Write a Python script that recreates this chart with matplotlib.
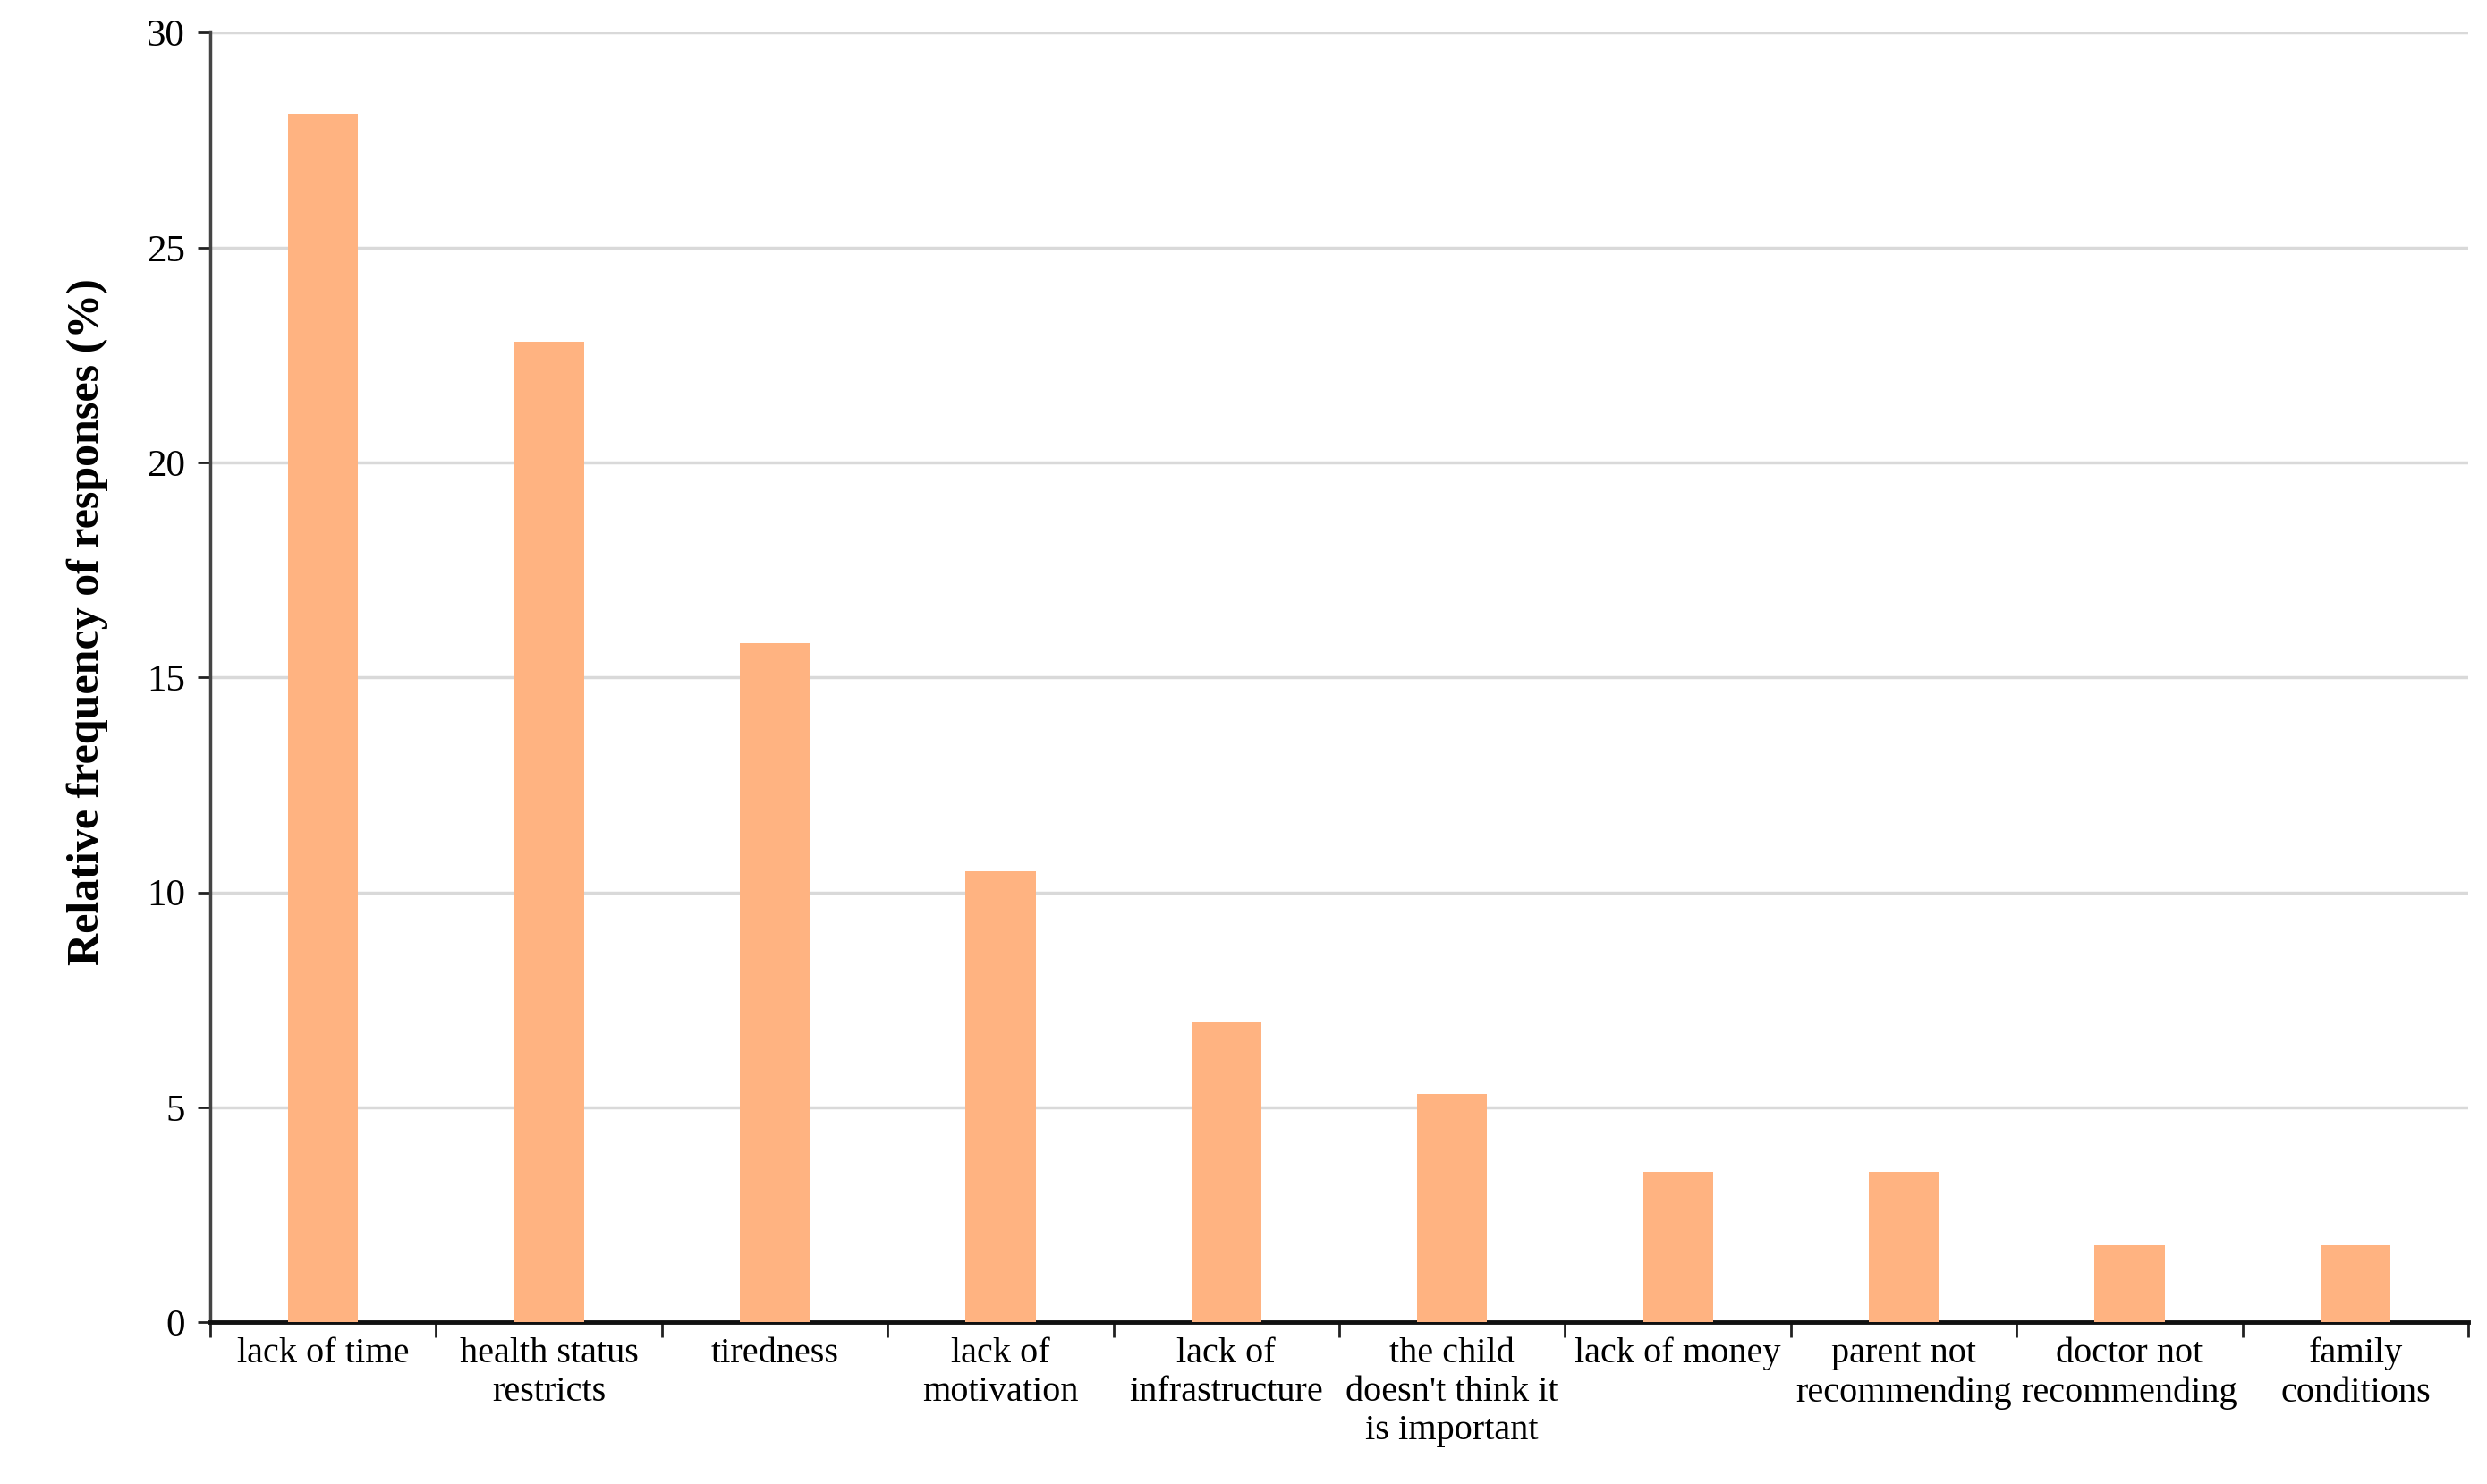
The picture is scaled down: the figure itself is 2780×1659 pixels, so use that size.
import numpy as np
import matplotlib.pyplot as plt

# reasons and share of responses (%)
reasons = [
    "lack of time",
    "health status\nrestricts",
    "tiredness",
    "lack of\nmotivation",
    "lack of\ninfrastructure",
    "the child\ndoesn't think it\nis important",
    "lack of money",
    "parent not\nrecommending",
    "doctor not\nrecommending",
    "family\nconditions",
]
freq = [28.1, 22.8, 15.8, 10.5, 7.0, 5.3, 3.5, 3.5, 1.8, 1.8]
yticks = [0, 5, 10, 15, 20, 25, 30]

plt.rcParams["font.family"] = ["Liberation Serif", "DejaVu Serif"]

fig = plt.figure(figsize=(27.8, 16.59), dpi=100)
ax = fig.add_axes([0.0845, 0.109, 0.908, 0.869])

x = np.arange(len(reasons))
ax.bar(x, freq, width=0.31, color="#FFB381", zorder=3)

ax.set_xlim(-0.5, len(reasons) - 0.5)
ax.set_ylim(0, 30)
ax.set_yticks(yticks)
ax.set_yticklabels([str(v) for v in yticks], fontsize=31)

# category labels between boundary ticks
ax.set_xticks(x)
ax.set_xticklabels(reasons, fontsize=29, linespacing=1.22)
ax.tick_params(axis="x", length=0, pad=12)
ax.set_xticks(np.arange(len(reasons) + 1) - 0.5, minor=True)
ax.tick_params(axis="x", which="minor", length=12, width=2, direction="out", color="#222222")
ax.tick_params(axis="y", length=10, width=2, direction="out", color="#222222", pad=10)

ax.grid(axis="y", color="#d9d9d9", linewidth=2.5, zorder=0)
ax.spines["top"].set_visible(False)
ax.spines["right"].set_visible(False)
ax.spines["left"].set_color("#444444")
ax.spines["left"].set_linewidth(2.5)
ax.spines["bottom"].set_color("#111111")
ax.spines["bottom"].set_linewidth(3.5)

ax.set_ylabel("Relative frequency of responses (%)", fontsize=36, fontweight="bold")
ax.yaxis.set_label_coords(-0.045, 0.543)

fig.savefig("out.png", dpi=100, facecolor="white")
